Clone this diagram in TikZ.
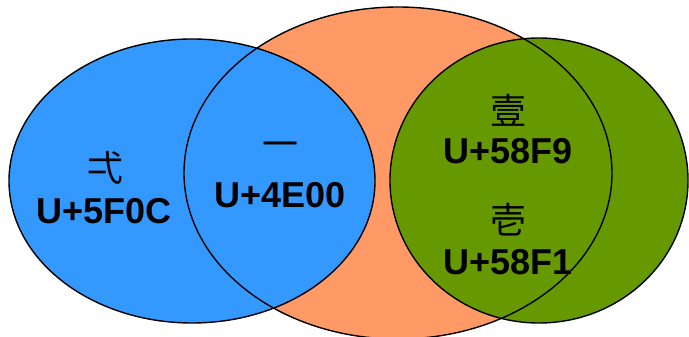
\documentclass[tikz,border=0pt]{standalone}
\usepackage{fontspec}
\setmainfont{Liberation Sans}
\newfontfamily\cjkfont{Noto Sans CJK JP}
\definecolor{vblue}{HTML}{3399FF}
\definecolor{vorange}{HTML}{FF9966}
\definecolor{vgreen}{HTML}{669900}
\tikzset{
  outline/.style={draw=black, line width=1.4pt},
  code/.style={font=\fontsize{36}{36}\selectfont\bfseries, inner sep=0pt, text=black},
  glyph/.style={font=\fontsize{36}{36}\selectfont\cjkfont, inner sep=0pt, text=black}
}
\begin{document}
\begin{tikzpicture}[x=1pt,y=-1pt]
\useasboundingbox (0,0) rectangle (689,337);
\fill[white] (0,0) rectangle (689,337);
% fills
\fill[vorange] (398,173) ellipse [x radius=214pt, y radius=166pt];
\fill[vblue] (192,181) ellipse [x radius=183pt, y radius=142pt];
\fill[vgreen] (539,180.5) ellipse [x radius=149pt, y radius=142.5pt];
% outlines
\draw[outline] (398,173) ellipse [x radius=214pt, y radius=166pt];
\draw[outline] (192,181) ellipse [x radius=183pt, y radius=142pt];
\draw[outline] (539,180.5) ellipse [x radius=149pt, y radius=142.5pt];
% labels
\node[glyph] (c1) at (105,168) {弌};
\node[code] (u1) at (104,211) {U+5F0C};
\node[glyph] (c2) at (280,150) {一};
\node[code] (u2) at (280,195) {U+4E00};
\node[glyph] (c3) at (508,110) {壹};
\node[code] (u3) at (508,151) {U+58F9};
\node[glyph] (c4) at (508,220) {壱};
\node[code] (u4) at (508,262) {U+58F1};
\end{tikzpicture}
\end{document}
